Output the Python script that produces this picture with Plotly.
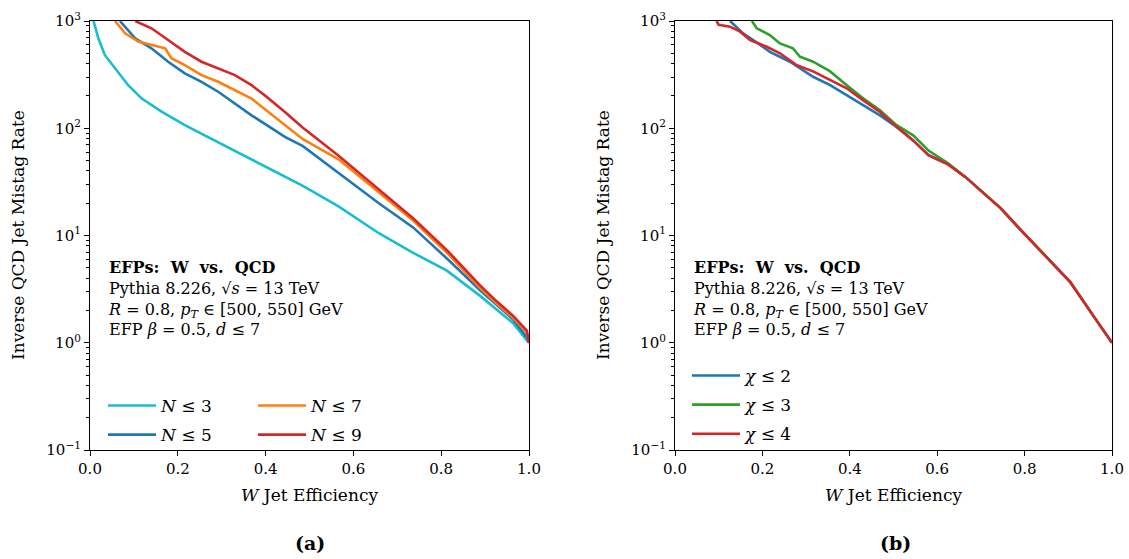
import plotly.graph_objects as go
from plotly.subplots import make_subplots

# ---------------- data ----------------
# Panel (a): N <= 3, 5, 7, 9
n3_x = [0.008, 0.019, 0.034, 0.064, 0.087, 0.118, 0.163, 0.216, 0.292, 0.383, 0.485, 0.567, 0.658, 0.736, 0.813, 0.888, 0.927, 0.964, 0.995, 1.0]
n3_y = [1000, 690, 480, 336, 252, 189, 143, 107, 74, 47, 29, 18.6, 10.5, 6.9, 4.7, 2.75, 2.02, 1.52, 1.05, 1.0]

n5_x = [0.068, 0.103, 0.14, 0.178, 0.216, 0.254, 0.292, 0.368, 0.444, 0.485, 0.567, 0.658, 0.736, 0.813, 0.888, 0.927, 0.964, 0.995, 1.0]
n5_y = [1000, 690, 556, 417, 325, 271, 219, 132, 83, 68, 38, 20, 11.9, 6.1, 3.1, 2.25, 1.65, 1.12, 1.0]

n7_x = [0.057, 0.080, 0.11, 0.14, 0.171, 0.186, 0.216, 0.254, 0.292, 0.368, 0.444, 0.485, 0.567, 0.658, 0.736, 0.813, 0.888, 0.927, 0.964, 0.995, 1.0]
n7_y = [1000, 767, 643, 597, 556, 448, 387, 313, 271, 189, 107, 79, 51, 25, 13.8, 6.9, 3.27, 2.31, 1.71, 1.25, 1.0]

n9_x = [0.103, 0.14, 0.178, 0.216, 0.254, 0.292, 0.33, 0.368, 0.40, 0.444, 0.485, 0.567, 0.658, 0.736, 0.813, 0.888, 0.927, 0.964, 0.995, 1.0]
n9_y = [1000, 855, 665, 516, 417, 361, 313, 252, 200, 142, 101, 55, 27, 14.5, 7.3, 3.45, 2.42, 1.78, 1.3, 1.0]

# Panel (b): chi <= 2, 3, 4
c2_x = [0.126, 0.156, 0.179, 0.217, 0.263, 0.316, 0.355, 0.393, 0.431, 0.469, 0.507, 0.545, 0.58, 0.625, 0.665, 0.705, 0.745, 0.785, 0.825, 0.864, 0.905, 0.968, 0.984, 1.0]
c2_y = [1000, 767, 665, 516, 417, 302, 252, 204, 164, 132, 103, 77, 56, 46, 35, 25, 18, 12, 8.1, 5.5, 3.65, 1.54, 1.24, 1.0]

c3_x = [0.176, 0.187, 0.217, 0.24, 0.27, 0.286, 0.316, 0.355, 0.393, 0.431, 0.469, 0.507, 0.545, 0.58, 0.625, 0.665, 0.705, 0.745, 0.785, 0.825, 0.864, 0.905, 0.968, 0.984, 1.0]
c3_y = [1000, 855, 740, 618, 556, 464, 417, 339, 252, 189, 147, 107, 86, 62, 47, 35, 25, 18, 12, 8.1, 5.5, 3.65, 1.54, 1.24, 1.0]

c4_x = [0.095, 0.1, 0.126, 0.149, 0.172, 0.21, 0.24, 0.279, 0.316, 0.355, 0.393, 0.431, 0.469, 0.507, 0.545, 0.58, 0.625, 0.665, 0.705, 0.745, 0.785, 0.825, 0.864, 0.905, 0.968, 0.984, 1.0]
c4_y = [1000, 920, 885, 795, 665, 575, 500, 387, 339, 281, 236, 182, 142, 103, 77, 56, 46, 35, 25, 18, 12, 8.1, 5.5, 3.65, 1.54, 1.24, 1.0]

x_ticks = [0.0, 0.2, 0.4, 0.6, 0.8, 1.0]
y_ticks = [0.1, 1, 10, 100, 1000]
y_ticktext = ["10<sup>\u22121</sup>", "10<sup>0</sup>", "10<sup>1</sup>", "10<sup>2</sup>", "10<sup>3</sup>"]

# ---------------- figure ----------------
FONT = "DejaVu Serif"
W, H = 1129, 559

fig = make_subplots(rows=1, cols=2)

lw = 2.6
fig.add_trace(go.Scatter(x=n3_x, y=n3_y, mode="lines", name="<i>N</i> \u2264 3",
                         line=dict(color="#17becf", width=lw), legend="legend", legendgroup="a1", legendrank=1), 1, 1)
fig.add_trace(go.Scatter(x=n5_x, y=n5_y, mode="lines", name="<i>N</i> \u2264 5",
                         line=dict(color="#1f77b4", width=lw), legend="legend", legendgroup="a2", legendrank=2), 1, 1)
fig.add_trace(go.Scatter(x=n7_x, y=n7_y, mode="lines", name="<i>N</i> \u2264 7",
                         line=dict(color="#ff7f0e", width=lw), legend="legend2", legendgroup="a3", legendrank=1), 1, 1)
fig.add_trace(go.Scatter(x=n9_x, y=n9_y, mode="lines", name="<i>N</i> \u2264 9",
                         line=dict(color="#d62728", width=lw), legend="legend2", legendgroup="a4", legendrank=2), 1, 1)

fig.add_trace(go.Scatter(x=c2_x, y=c2_y, mode="lines", name="<i>\u03c7</i> \u2264 2",
                         line=dict(color="#1f77b4", width=lw), legend="legend3", legendgroup="b1"), 1, 2)
fig.add_trace(go.Scatter(x=c3_x, y=c3_y, mode="lines", name="<i>\u03c7</i> \u2264 3",
                         line=dict(color="#2ca02c", width=lw), legend="legend3", legendgroup="b2"), 1, 2)
fig.add_trace(go.Scatter(x=c4_x, y=c4_y, mode="lines", name="<i>\u03c7</i> \u2264 4",
                         line=dict(color="#d62728", width=lw), legend="legend3", legendgroup="b3"), 1, 2)

ydom = [1 - 450 / H, 1 - 21 / H]
xdom1 = [90 / W, 529 / W]
xdom2 = [675 / W, 1112 / W]

minor_vals = [m * 10 ** e for e in range(-1, 3) for m in range(2, 10)]

axis_common = dict(showline=True, linecolor="black", linewidth=1.2, mirror=True,
                   ticks="outside", ticklen=5, tickwidth=1, tickcolor="black",
                   showgrid=False, zeroline=False, automargin=False,
                   tickfont=dict(family=FONT, size=15, color="black"))

for i, dom in zip((1, 2), (xdom1, xdom2)):
    fig.update_xaxes(row=1, col=i, domain=dom, range=[0, 1], tickvals=x_ticks,
                     tickformat=".1f",
                     title=dict(text="<i>W</i> Jet Efficiency", standoff=12,
                                font=dict(family=FONT, size=17, color="black")),
                     **axis_common)
    fig.update_yaxes(row=1, col=i, domain=ydom, type="log", range=[-1, 3],
                     tickvals=y_ticks, ticktext=y_ticktext,
                     minor=dict(tickvals=minor_vals, ticks="outside", ticklen=3,
                                tickcolor="black", tickwidth=0.8, showgrid=False),
                     **axis_common)

info_text = ("<b>EFPs:  W  vs.  QCD</b><br>"
             "Pythia 8.226, \u221a<i>s</i> = 13 TeV<br>"
             "<i>R</i> = 0.8, <i>p<sub>T</sub></i> \u2208 [500, 550] GeV<br>"
             "EFP <i>\u03b2</i> = 0.5, <i>d</i> \u2264 7")

annotations = []
for xl in (106 / W, 691 / W):
    annotations.append(dict(text=info_text, xref="paper", yref="paper", x=xl, y=1 - 256 / H,
                            xanchor="left", yanchor="top", align="left", showarrow=False,
                            font=dict(family=FONT, size=16, color="black")))
for xc, lab in ((310 / W, "<b>(a)</b>"), (895 / W, "<b>(b)</b>")):
    annotations.append(dict(text=lab, xref="paper", yref="paper", x=xc, y=1 - 543 / H,
                            xanchor="center", yanchor="middle", showarrow=False,
                            font=dict(family=FONT, size=19, color="black")))
for xc in (18 / W, 603 / W):
    annotations.append(dict(text="Inverse QCD Jet Mistag Rate", xref="paper", yref="paper",
                            x=xc, y=1 - 235 / H, xanchor="center", yanchor="middle",
                            textangle=-90, showarrow=False,
                            font=dict(family=FONT, size=17, color="black")))

legend_common = dict(bgcolor="rgba(0,0,0,0)", borderwidth=0, xanchor="left", yanchor="top",
                     orientation="v", tracegroupgap=4, itemwidth=48,
                     font=dict(family=FONT, size=17, color="black"))

fig.update_layout(
    width=W, height=H,
    margin=dict(l=0, r=0, t=0, b=0),
    paper_bgcolor="white", plot_bgcolor="white",
    font=dict(family=FONT, size=15, color="black"),
    annotations=annotations,
    legend=dict(x=103 / W, y=1 - 388 / H, **legend_common),
    legend2=dict(x=253 / W, y=1 - 388 / H, **legend_common),
    legend3=dict(x=687 / W, y=1 - 358 / H, **legend_common),
)

fig.write_html("out.html", config={"displayModeBar": False},
               post_script="document.body.style.margin='0';document.body.style.overflow='hidden';")
